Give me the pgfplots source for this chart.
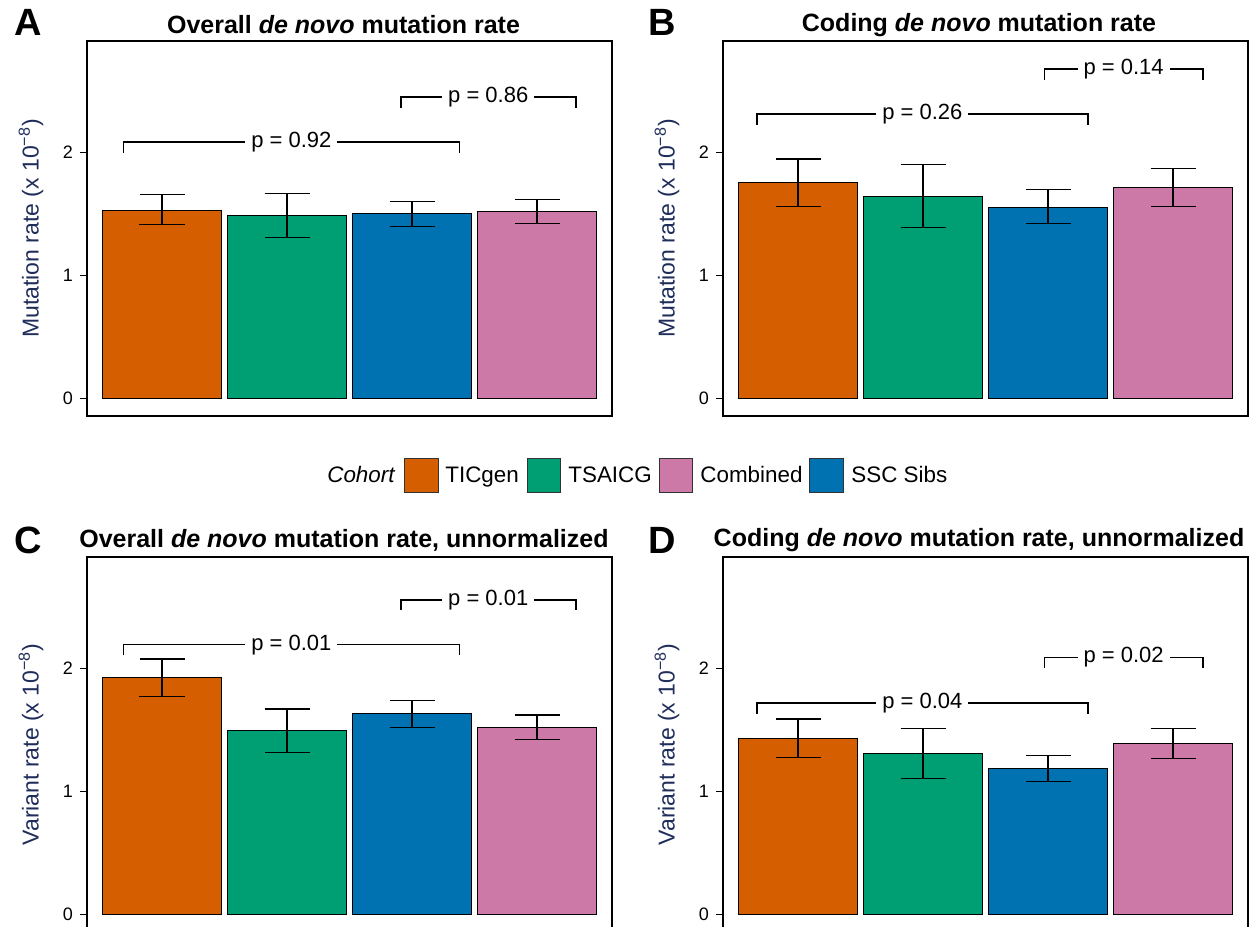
\documentclass[border=0pt]{standalone}
\usepackage{pgfplots}
\pgfplotsset{compat=1.18}
\usepackage{fontspec}
\setmainfont{Liberation Sans}
\definecolor{cOr}{HTML}{D55E00}
\definecolor{cGr}{HTML}{009E73}
\definecolor{cBl}{HTML}{0072B2}
\definecolor{cPk}{HTML}{CC79A7}
\definecolor{navy}{RGB}{31,45,90}
\newcommand{\pfont}{\fontsize{11}{13}\selectfont}
\newcommand{\bracket}[6]{%
  \draw[line width=0.75pt] (axis cs:#1,#5) -- (axis cs:#1,#4) -- (axis cs:#2,#4) -- (axis cs:#2,#5);
  \node[fill=white, inner xsep=3pt, inner ysep=0.5pt, font=\pfont] at (axis cs:#3,#4) {#6};
}
\pgfplotsset{panel/.style={
  scale only axis, width=262.5pt, height=187.5pt, anchor=south west,
  xmin=0.4, xmax=4.6, ymin=-0.14, ymax=2.9,
  xtick=\empty, ytick={0,1,2}, ytick pos=left, tick align=outside,
  major tick length=3.5pt, tick style={line width=0.5pt, black},
  axis line style={line width=1.3pt},
  /pgf/number format/assume math mode=true,
  yticklabel style={font=\fontsize{9}{10}\selectfont, xshift=0pt},
  every axis y label/.style={at={(rel axis cs:0,0.5)}, xshift=-28pt, rotate=90, anchor=center},
  ylabel style={font=\fontsize{11.5}{13}\selectfont, color=navy},
  ybar, bar width=0.95, bar shift=0pt,
  error bars/y dir=both, error bars/y explicit,
  error bars/error bar style={line width=0.55pt, black},
  error bars/error mark options={rotate=90, mark size=11.25pt, line width=0.55pt, black},
  every axis plot/.append style={draw=black, line width=0.4pt},
}}
\begin{document}
\begin{tikzpicture}
\clip (0,0) rectangle (627.5pt,463.5pt);
\fill[white] (0,0) rectangle (627.5pt,463.5pt);
% ---------- A ----------
\begin{axis}[panel, at={(43.5pt,255.5pt)}, ylabel={Mutation rate (x 10\textsuperscript{−8})}]
\addplot[fill=cOr] coordinates {(1,1.530) += (0,0.122) -= (0,0.118)};
\addplot[fill=cGr] coordinates {(2,1.490) += (0,0.175) -= (0,0.184)};
\addplot[fill=cBl] coordinates {(3,1.506) += (0,0.092) -= (0,0.111)};
\addplot[fill=cPk] coordinates {(4,1.520) += (0,0.097) -= (0,0.103)};
\bracket{0.69}{3.38}{2.035}{2.081}{1.99}{p = 0.92}
\bracket{2.91}{4.31}{3.61}{2.445}{2.359}{p = 0.86}
\end{axis}
% ---------- B ----------
\begin{axis}[panel, at={(361.5pt,255.5pt)}, ylabel={Mutation rate (x 10\textsuperscript{−8})}]
\addplot[fill=cOr] coordinates {(1,1.754) += (0,0.189) -= (0,0.194)};
\addplot[fill=cGr] coordinates {(2,1.641) += (0,0.259) -= (0,0.256)};
\addplot[fill=cBl] coordinates {(3,1.555) += (0,0.140) -= (0,0.138)};
\addplot[fill=cPk] coordinates {(4,1.714) += (0,0.154) -= (0,0.154)};
\bracket{0.67}{3.32}{1.995}{2.308}{2.221}{p = 0.26}
\bracket{2.97}{4.24}{3.605}{2.672}{2.586}{p = 0.14}
\end{axis}
% ---------- C ----------
\begin{axis}[panel, at={(43.5pt,-2.5pt)}, ylabel={Variant rate (x 10\textsuperscript{−8})}]
\addplot[fill=cOr] coordinates {(1,1.922) += (0,0.151) -= (0,0.151)};
\addplot[fill=cGr] coordinates {(2,1.495) += (0,0.173) -= (0,0.183)};
\addplot[fill=cBl] coordinates {(3,1.630) += (0,0.108) -= (0,0.110)};
\addplot[fill=cPk] coordinates {(4,1.522) += (0,0.097) -= (0,0.102)};
\bracket{0.69}{3.38}{2.035}{2.189}{2.103}{p = 0.01}
\bracket{2.91}{4.31}{3.61}{2.553}{2.467}{p = 0.01}
\end{axis}
% ---------- D ----------
\begin{axis}[panel, at={(361.5pt,-2.5pt)}, ylabel={Variant rate (x 10\textsuperscript{−8})}]
\addplot[fill=cOr] coordinates {(1,1.430) += (0,0.157) -= (0,0.156)};
\addplot[fill=cGr] coordinates {(2,1.309) += (0,0.202) -= (0,0.205)};
\addplot[fill=cBl] coordinates {(3,1.188) += (0,0.105) -= (0,0.106)};
\addplot[fill=cPk] coordinates {(4,1.390) += (0,0.119) -= (0,0.127)};
\bracket{0.67}{3.32}{1.995}{1.717}{1.628}{p = 0.04}
\bracket{2.97}{4.24}{3.605}{2.086}{2.000}{p = 0.02}
\end{axis}
% ---------- titles and letters ----------
\node[font=\fontsize{12.5}{15}\selectfont\bfseries] at (171.75pt,451pt) {Overall \textit{de novo} mutation rate};
\node[font=\fontsize{12.5}{15}\selectfont\bfseries] at (489.5pt,451pt) {Coding \textit{de novo} mutation rate};
\node[font=\fontsize{12.5}{15}\selectfont\bfseries] at (172pt,193.5pt) {Overall \textit{de novo} mutation rate, unnormalized};
\node[font=\fontsize{12.5}{15}\selectfont\bfseries] at (489.5pt,193.5pt) {Coding \textit{de novo} mutation rate, unnormalized};
\node[font=\fontsize{19}{20}\selectfont\bfseries] at (14pt,452.5pt) {A};
\node[font=\fontsize{19}{20}\selectfont\bfseries] at (331pt,452.5pt) {B};
\node[font=\fontsize{19}{20}\selectfont\bfseries] at (14pt,193.5pt) {C};
\node[font=\fontsize{19}{20}\selectfont\bfseries] at (331pt,193.5pt) {D};
% ---------- legend ----------
\begin{scope}[font=\fontsize{11.2}{13}\selectfont]
\node[anchor=base east, inner sep=0pt] at (197.5pt,222pt) {\itshape Cohort};
\filldraw[fill=cOr, draw=black!80, line width=0.4pt] (202.25pt,217.5pt) rectangle (219pt,234.5pt);
\node[anchor=base west, inner sep=0pt] at (222.5pt,222pt) {TICgen};
\filldraw[fill=cGr, draw=black!80, line width=0.4pt] (263.5pt,217.5pt) rectangle (280.3pt,234.5pt);
\node[anchor=base west, inner sep=0pt] at (284pt,222pt) {TSAICG};
\filldraw[fill=cPk, draw=black!80, line width=0.4pt] (329.5pt,217.5pt) rectangle (346.25pt,234.5pt);
\node[anchor=base west, inner sep=0pt] at (350pt,222pt) {Combined};
\filldraw[fill=cBl, draw=black!80, line width=0.4pt] (404.85pt,217.5pt) rectangle (421.8pt,234.5pt);
\node[anchor=base west, inner sep=0pt] at (425.5pt,222pt) {SSC Sibs};
\end{scope}
\end{tikzpicture}
\end{document}
